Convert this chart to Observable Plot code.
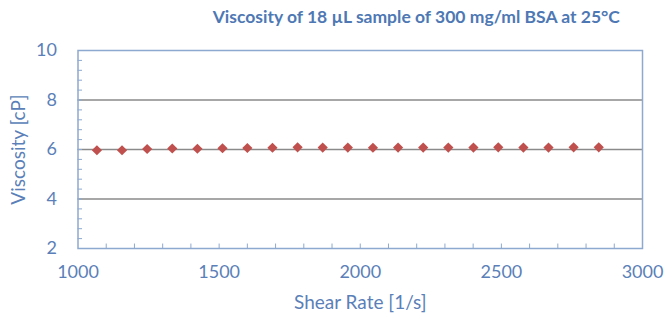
<!DOCTYPE html>
<html>
<head>
<meta charset="utf-8">
<script src="https://cdn.jsdelivr.net/npm/d3@7"></script>
<script src="https://cdn.jsdelivr.net/npm/@observablehq/plot@0.6"></script>
<style>
  html, body { margin: 0; padding: 0; background: #fff; }
</style>
</head>
<body>
<div id="chart"></div>
<script>
const title = "Viscosity of 18 \u00b5L sample of 300 mg/ml BSA at 25\u00b0C";
const xLabel = "Shear Rate [1/s]";
const yLabel = "Viscosity [cP]";
const shearRate = [1067, 1156, 1245, 1334, 1423, 1512, 1600, 1689, 1778, 1867, 1956, 2045, 2134, 2223, 2312, 2401, 2489, 2578, 2667, 2756, 2845];
const viscosity = [5.97, 5.97, 6.02, 6.04, 6.03, 6.05, 6.06, 6.07, 6.09, 6.08, 6.08, 6.07, 6.08, 6.08, 6.08, 6.08, 6.09, 6.08, 6.08, 6.09, 6.09];
const xTicks = [1000, 1500, 2000, 2500, 3000];
const yTicks = [2, 4, 6, 8, 10];
const xMinor = d3.range(1100, 3000, 100);
const yMinor = d3.range(2.4, 10, 0.4);

const data = shearRate.map((x, i) => ({x, y: viscosity[i]}));
const textColor = "#5b7fb8";

const chart = Plot.plot({
  width: 668,
  height: 323,
  marginLeft: 77.5,
  marginRight: 26,
  marginTop: 50,
  marginBottom: 75,
  style: {fontFamily: "Lato, 'Open Sans', sans-serif", fontSize: "18px", color: textColor, background: "#fff"},
  x: {domain: [1000, 3000]},
  y: {domain: [2, 10]},
  marks: [
    Plot.ruleY([4, 6, 8], {stroke: "#8a8a8a", strokeWidth: 1.3}),
    Plot.ruleX(xMinor, {x: d => d, y1: 2, y2: 2.18, stroke: "#8ea9cf", strokeWidth: 1}),
    Plot.ruleY(yMinor, {y: d => d, x1: 1000, x2: 1016, stroke: "#8ea9cf", strokeWidth: 1}),
    Plot.frame({stroke: "#8ea9cf", strokeWidth: 1.5}),
    Plot.axisX({ticks: xTicks, tickSize: 0, tickPadding: 17, fontSize: 18, tickFormat: d => String(d), label: null}),
    Plot.axisY({ticks: yTicks, tickSize: 0, tickPadding: 21, fontSize: 18, tickFormat: d => String(d), label: null}),
    Plot.text([xLabel], {text: d => d, frameAnchor: "bottom", lineAnchor: "middle", dy: 54, fontSize: 19, fill: textColor}),
    Plot.text([yLabel], {text: d => d, frameAnchor: "left", textAnchor: "middle", lineAnchor: "middle", dx: -59.5, rotate: -90, fontSize: 19, fill: textColor}),
    Plot.dot(data, {x: "x", y: "y", symbol: "diamond2", r: 4.6, fill: "#c0504d", stroke: "none"}),
    Plot.text([title], {text: d => d, frameAnchor: "top", lineAnchor: "middle", dx: 56, dy: -33, fontSize: 17.5, fontWeight: "bold", fill: "#4e78b4"})
  ]
});
document.getElementById("chart").append(chart);
</script>
</body>
</html>
